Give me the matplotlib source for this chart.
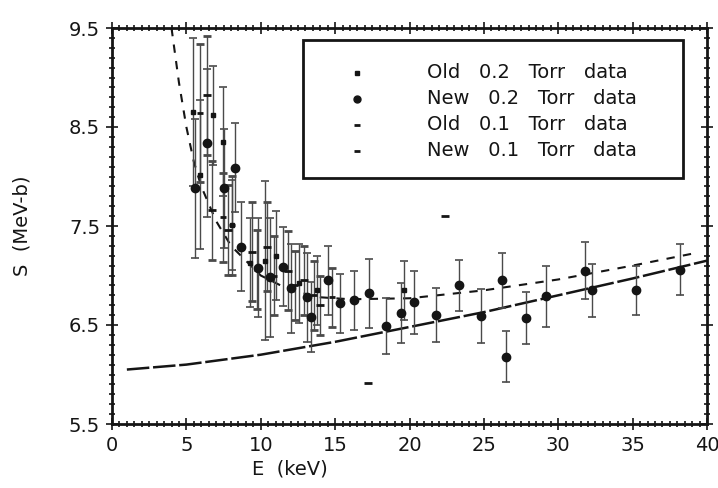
import matplotlib
matplotlib.use("Agg")
import matplotlib.pyplot as plt
from matplotlib.ticker import MultipleLocator, FixedLocator
from matplotlib.patches import Rectangle

# ---- data ----
old02_E = [5.45, 5.9, 6.8, 7.46, 8.1, 9.3, 10.3, 11.0, 12.6, 13.8, 19.6]
old02_S = [8.65, 8.02, 8.62, 8.35, 7.51, 7.13, 7.15, 7.20, 6.92, 6.85, 6.85]
old02_err = [0.75, 0.75, 0.5, 0.55, 0.45, 0.45, 0.8, 0.45, 0.4, 0.35, 0.3]

new02_E = [5.6, 6.4, 7.5, 8.3, 8.7, 9.8, 10.6, 11.5, 12.0, 13.1, 13.4, 14.5, 15.3,
           16.3, 17.3, 18.4, 19.4, 20.3, 21.8, 23.3, 24.8, 26.2, 26.5, 27.8, 29.2,
           31.8, 32.3, 35.2, 38.2]
new02_S = [7.88, 8.34, 7.88, 8.09, 7.29, 7.08, 6.98, 7.09, 6.87, 6.78, 6.58, 6.95, 6.72,
           6.75, 6.82, 6.49, 6.62, 6.73, 6.60, 6.90, 6.59, 6.95, 6.18, 6.57, 6.79,
           7.05, 6.85, 6.85, 7.06]
new02_err = [0.7, 0.75, 0.6, 0.45, 0.45, 0.5, 0.6, 0.4, 0.45, 0.45, 0.35, 0.35, 0.3,
             0.3, 0.35, 0.28, 0.3, 0.32, 0.27, 0.26, 0.27, 0.28, 0.26, 0.26, 0.31,
             0.29, 0.27, 0.25, 0.26]

old01_E = [6.39, 6.7, 7.8, 9.4, 10.4, 11.8, 12.9, 14.0]
old01_S = [8.82, 7.66, 7.46, 7.24, 7.29, 7.05, 6.95, 6.70]
old01_err = [0.6, 0.5, 0.45, 0.5, 0.45, 0.4, 0.35, 0.3]

new01_E = [5.9, 7.46, 8.1, 9.75, 10.9, 12.3, 13.6, 14.8]
new01_S = [8.64, 7.59, 7.51, 7.06, 7.00, 6.90, 6.80, 6.78]
new01_err = [0.7, 0.45, 0.5, 0.4, 0.4, 0.35, 0.35, 0.3]

stray_E = [22.4, 17.2]
stray_S = [7.60, 5.91]

solid_E = [1, 5, 10, 15, 20, 25, 30, 35, 40]
solid_S = [6.05, 6.10, 6.20, 6.33, 6.48, 6.63, 6.80, 6.97, 7.15]

dash_E = [4.0, 4.5, 5.0, 5.5, 6.0, 7.0, 8.0, 10.0, 12.0, 14.0, 16.0, 20.0, 25.0, 30.0, 35.0, 39.0]
dash_S = [9.5, 8.95, 8.5, 8.15, 7.9, 7.55, 7.3, 7.0, 6.85, 6.78, 6.76, 6.77, 6.85, 6.96, 7.10, 7.22]

xticks = [0, 5, 10, 15, 20, 25, 30, 35, 40]
yticks = [5.5, 6.5, 7.5, 8.5, 9.5]
labels = ["Old   0.2   Torr   data", "New   0.2   Torr   data",
          "Old   0.1   Torr   data", "New   0.1   Torr   data"]

# ---- figure ----
fig = plt.figure(figsize=(7.18, 4.88), dpi=100)
ax = fig.add_axes([112/718, 64/488, 595/718, 396/488])
ink = "#151515"

ax.plot(solid_E, solid_S, color=ink, lw=1.8, ls=(0, (9, 1.5)), zorder=3)
ax.plot(dash_E, dash_S, color=ink, lw=1.5, ls=(0, (4, 4)), zorder=3)

ebkw = dict(ecolor="#4a4a4a", elinewidth=1.0, capsize=3, capthick=1.2, ls="none", zorder=4)
ax.errorbar(old02_E, old02_S, yerr=old02_err, fmt="s", ms=3.5, mfc=ink, mec=ink, **ebkw)
ax.errorbar(new02_E, new02_S, yerr=new02_err, fmt="o", ms=6, mfc=ink, mec=ink, **ebkw)
ax.errorbar(old01_E, old01_S, yerr=old01_err, fmt="_", ms=6, mew=2, color=ink, **ebkw)
ax.errorbar(new01_E, new01_S, yerr=new01_err, fmt="_", ms=5, mew=2, color=ink, **ebkw)
ax.plot(stray_E, stray_S, "_", color=ink, ms=6, mew=2, ls="none")

ax.set_xlim(0, 40)
ax.set_ylim(5.5, 9.5)
ax.xaxis.set_major_locator(FixedLocator(xticks))
ax.xaxis.set_minor_locator(MultipleLocator(0.5))
ax.yaxis.set_major_locator(FixedLocator(yticks))
ax.yaxis.set_minor_locator(MultipleLocator(0.1))
ax.tick_params(which="both", direction="inout", top=True, right=True, colors=ink,
               labelsize=14, width=1.2)
ax.tick_params(which="major", length=9, pad=4)
ax.tick_params(which="minor", length=5)
ax.set_yticklabels([str(v) for v in yticks])
for s in ax.spines.values():
    s.set_linewidth(2.0)
    s.set_color(ink)

ax.set_xlabel("E  (keV)", fontsize=14, color=ink)
ax.xaxis.set_label_coords((290 - 112) / 595, -0.09)
ax.set_ylabel("S  (MeV-b)", fontsize=14, color=ink)
ax.yaxis.set_label_coords(-0.135, 0.5)

# ---- legend (drawn by hand, in axes coordinates) ----
x0, x1 = (303 - 112) / 595, (683 - 112) / 595
y0, y1 = (424 - 178) / 396, (424 - 40) / 396
ax.add_patch(Rectangle((x0, y0), x1 - x0, y1 - y0, transform=ax.transAxes,
                       fill=True, facecolor="white", edgecolor=ink, lw=2.0, zorder=6))
row_y = [(424 - py) / 396 for py in (73, 99, 125, 151)]
mx = (357 - 112) / 595
tx = (427 - 112) / 595
mstyles = [dict(marker="s", ms=3.5), dict(marker="o", ms=5),
           dict(marker="_", ms=5, mew=2), dict(marker="_", ms=5, mew=2)]
for yy, lab, st in zip(row_y, labels, mstyles):
    ax.plot([mx], [yy], transform=ax.transAxes, color=ink, ls="none", zorder=7,
            clip_on=False, **st)
    ax.text(tx, yy, lab, transform=ax.transAxes, fontsize=14, color=ink,
            va="center", ha="left", zorder=7)

fig.savefig("out.png", dpi=100, facecolor="white")
